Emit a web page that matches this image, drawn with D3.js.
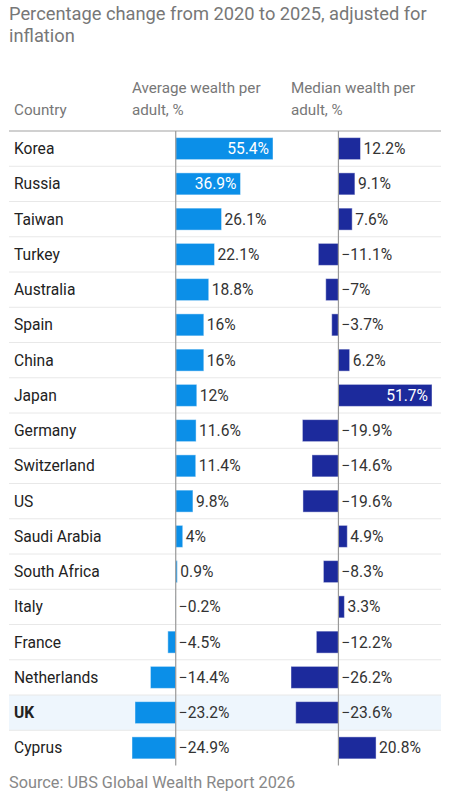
<!DOCTYPE html>
<html>
<head>
<meta charset="utf-8">
<script src="https://cdn.jsdelivr.net/npm/d3@7"></script>
<style>
  body { margin: 0; background: #fff; }
  text { font-family: Roboto, "Noto Sans", sans-serif; }
</style>
</head>
<body>
<script>
var width = 450
var height = 812

// data
var countries = ["Korea", "Russia", "Taiwan", "Turkey", "Australia", "Spain", "China", "Japan",
  "Germany", "Switzerland", "US", "Saudi Arabia", "South Africa", "Italy", "France",
  "Netherlands", "UK", "Cyprus"]
var averageWealth = [55.4, 36.9, 26.1, 22.1, 18.8, 16, 16, 12, 11.6, 11.4, 9.8, 4, 0.9, -0.2,
  -4.5, -14.4, -23.2, -24.9]
var medianWealth = [12.2, 9.1, 7.6, -11.1, -7, -3.7, 6.2, 51.7, -19.9, -14.6, -19.6, 4.9,
  -8.3, 3.3, -12.2, -26.2, -23.6, 20.8]
var highlight = "UK"

var rows = countries.map(function(c, i) {
  return { country: c, avg: averageWealth[i], med: medianWealth[i] }
})

var svg = d3.select("body")
  .append("svg")
  .attr("width", width)
  .attr("height", height)

// title
var title = svg.append("text")
  .attr("x", 9)
  .attr("fill", "#777")
  .style("font-size", "18.3px")
title.append("tspan").attr("x", 9).attr("y", 20).text("Percentage change from 2020 to 2025, adjusted for")
title.append("tspan").attr("x", 9).attr("y", 42).text("inflation")

var tableTop = 131
var rowH = 35.25

var y = d3.scaleBand()
  .domain(countries)
  .range([tableTop, tableTop + rowH * countries.length])

var xAvg = d3.scaleLinear()
  .domain([d3.min(averageWealth), d3.max(averageWealth)])
  .range([132, 273])

var xMed = d3.scaleLinear()
  .domain([d3.min(medianWealth), d3.max(medianWealth)])
  .range([291, 432])

// headers
var headers = [
  { x: 14, lines: ["", "Country"] },
  { x: 132, lines: ["Average wealth per", "adult, %"] },
  { x: 291, lines: ["Median wealth per", "adult, %"] }
]
headers.forEach(function(h) {
  h.lines.forEach(function(l, j) {
    svg.append("text")
      .attr("x", h.x)
      .attr("y", 93 + j * 22)
      .attr("fill", "#777")
      .style("font-size", "15.2px")
      .text(l)
  })
})

// highlighted row background
svg.append("rect")
  .attr("x", 9)
  .attr("width", 432)
  .attr("y", y(highlight))
  .attr("height", y.bandwidth())
  .attr("fill", "#eef6fd")

// row separators
svg.selectAll(".sep")
  .data(countries.slice(1))
  .enter()
  .append("line")
  .attr("x1", 9)
  .attr("x2", 441)
  .attr("y1", function(d) { return y(d) })
  .attr("y2", function(d) { return y(d) })
  .attr("stroke", "#e8e8e8")
  .attr("stroke-width", 1)

// header rule
svg.append("line")
  .attr("x1", 9).attr("x2", 441)
  .attr("y1", tableTop).attr("y2", tableTop)
  .attr("stroke", "#d0d0d0")
  .attr("stroke-width", 2)

// country names
svg.selectAll(".country")
  .data(rows)
  .enter()
  .append("text")
  .attr("x", 14)
  .attr("y", function(d) { return y(d.country) + y.bandwidth() / 2 })
  .attr("dy", "0.35em")
  .attr("fill", "#222")
  .style("font-size", "15.6px")
  .style("font-weight", function(d) { return d.country == highlight ? "bold" : "normal" })
  .text(function(d) { return d.country })

function fmt(v) {
  return (v < 0 ? "\u2212" : "") + Math.abs(v) + "%"
}

var barH = 22

function column(key, x, color, insideMin) {
  var g = svg.append("g")

  g.selectAll("rect")
    .data(rows)
    .enter()
    .append("rect")
    .attr("x", function(d) { return Math.min(x(0), x(d[key])) })
    .attr("width", function(d) { return Math.abs(x(d[key]) - x(0)) })
    .attr("y", function(d) { return y(d.country) + (y.bandwidth() - barH) / 2 })
    .attr("height", barH)
    .attr("fill", color)
    .attr("stroke", "rgba(255,255,255,0.45)")
    .attr("stroke-width", 1)

  g.append("line")
    .attr("x1", x(0)).attr("x2", x(0))
    .attr("y1", tableTop).attr("y2", y.range()[1])
    .attr("stroke", "#999")
    .attr("stroke-width", 1.2)

  g.selectAll("text")
    .data(rows)
    .enter()
    .append("text")
    .attr("x", function(d) {
      if (d[key] >= insideMin) return x(d[key]) - 4
      if (d[key] > 0) return x(d[key]) + 3
      return x(0) + 3
    })
    .attr("text-anchor", function(d) { return d[key] >= insideMin ? "end" : "start" })
    .attr("y", function(d) { return y(d.country) + y.bandwidth() / 2 })
    .attr("dy", "0.35em")
    .attr("fill", function(d) { return d[key] >= insideMin ? "#fff" : "#333" })
    .style("font-size", "15.6px")
    .text(function(d) { return fmt(d[key]) })
}

column("avg", xAvg, "#0b8fe8", 30)
column("med", xMed, "#1c2a9c", 30)

svg.append("text")
  .attr("x", 9)
  .attr("y", 788)
  .attr("fill", "#888")
  .style("font-size", "16.3px")
  .text("Source: UBS Global Wealth Report 2026")
</script>
</body>
</html>
